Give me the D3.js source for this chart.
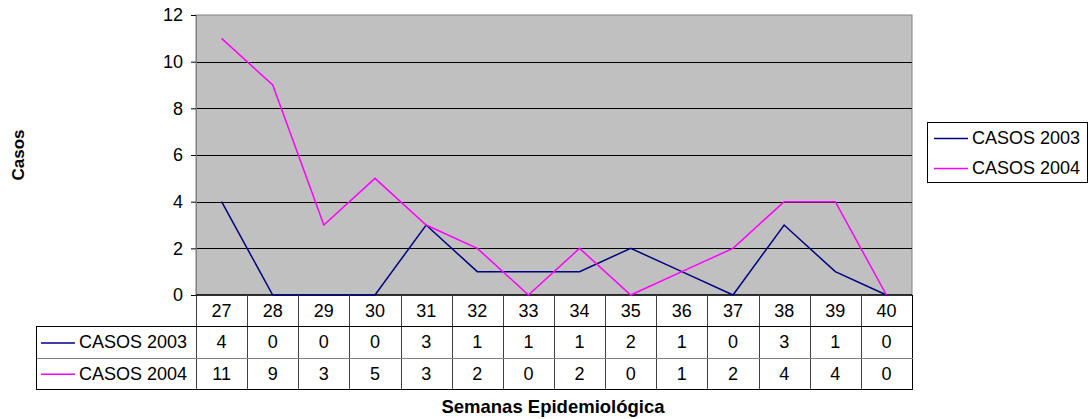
<!DOCTYPE html>
<html lang="es">
<head>
<meta charset="UTF-8">
<title>Casos por semana epidemiológica</title>
<script src="https://d3js.org/d3.v7.min.js"></script>
<style>
    body { margin: 0; background: #fff; }
    svg text { font-family: Arial, "Liberation Sans", sans-serif; }
</style>
</head>
<body>
<svg id="chart" width="1089" height="419"></svg>
<script>
// data
const weeks = ["27","28","29","30","31","32","33","34","35","36","37","38","39","40"];
const casos2003 = [4, 0, 0, 0, 3, 1, 1, 1, 2, 1, 0, 3, 1, 0];
const casos2004 = [11, 9, 3, 5, 3, 2, 0, 2, 0, 1, 2, 4, 4, 0];
const seriesNames = ["CASOS 2003", "CASOS 2004"];
const seriesColors = ["#000080", "#FF00FF"];
const yTicks = [0, 2, 4, 6, 8, 10, 12];

const series = [casos2003, casos2004];

// layout
const plot = {left: 196, right: 912, top: 15, bottom: 295};
const rowH = 31.3;
const tableLeft = 36;
const fs = 18;

const svg = d3.select("#chart");

const x = d3.scaleBand().domain(weeks).range([plot.left, plot.right]);
const y = d3.scaleLinear().domain([0, 12]).range([plot.bottom, plot.top]);

// plot background
svg.append("rect")
    .attr("x", plot.left).attr("y", plot.top)
    .attr("width", plot.right - plot.left).attr("height", plot.bottom - plot.top)
    .attr("fill", "#C0C0C0").attr("stroke", "#808080").attr("stroke-width", 1);

// gridlines
svg.append("g").selectAll("line")
    .data(yTicks.filter(d => d > 0 && d < 12))
    .join("line")
    .attr("x1", plot.left).attr("x2", plot.right)
    .attr("y1", d => Math.round(y(d)) + 0.5).attr("y2", d => Math.round(y(d)) + 0.5)
    .attr("stroke", "#000").attr("stroke-width", 1);

// y axis
const yAxis = svg.append("g")
    .attr("transform", `translate(${plot.left},0)`)
    .call(d3.axisLeft(y).tickValues(yTicks).tickSize(5).tickPadding(8));
yAxis.select(".domain").attr("stroke", "#808080");
yAxis.selectAll(".tick line").attr("stroke", "#000");
yAxis.selectAll(".tick text").attr("font-size", fs).attr("fill", "#000")
    .attr("font-family", "Arial, 'Liberation Sans', sans-serif");

// zero line
svg.append("line")
    .attr("x1", plot.left).attr("x2", plot.right)
    .attr("y1", plot.bottom).attr("y2", plot.bottom)
    .attr("stroke", "#000").attr("stroke-width", 1.5);

// series lines
const line = d3.line()
    .x((d, i) => x(weeks[i]) + x.bandwidth() / 2)
    .y(d => y(d));

svg.append("g").selectAll("path")
    .data(series)
    .join("path")
    .attr("d", line)
    .attr("fill", "none")
    .attr("stroke", (d, i) => seriesColors[i])
    .attr("stroke-width", 1.5);

// data table
const table = svg.append("g");
const rowTop = i => plot.bottom + i * rowH;
const baseOff = rowH / 2 + 6.5;

// header cells
table.selectAll("text.head")
    .data(weeks)
    .join("text")
    .attr("class", "head")
    .attr("x", d => x(d) + x.bandwidth() / 2)
    .attr("y", rowTop(0) + baseOff)
    .attr("text-anchor", "middle")
    .attr("font-size", fs)
    .text(d => d);

// value rows
series.forEach((vals, s) => {
    const yy = rowTop(s + 1) + baseOff;
    table.append("g").selectAll("text")
        .data(vals)
        .join("text")
        .attr("x", (d, i) => x(weeks[i]) + x.bandwidth() / 2)
        .attr("y", yy)
        .attr("text-anchor", "middle")
        .attr("font-size", fs)
        .text(d => d);
    table.append("line")
        .attr("x1", tableLeft + 5).attr("x2", tableLeft + 39)
        .attr("y1", rowTop(s + 1) + rowH / 2 + 1).attr("y2", rowTop(s + 1) + rowH / 2 + 1)
        .attr("stroke", seriesColors[s]).attr("stroke-width", 1.5);
    table.append("text")
        .attr("x", tableLeft + 43)
        .attr("y", yy)
        .attr("font-size", fs)
        .text(seriesNames[s]);
});

// table grid
const bottom = rowTop(3);
table.selectAll("line.vline")
    .data(weeks.slice(1))
    .join("line")
    .attr("class", "vline")
    .attr("x1", d => Math.round(x(d)) + 0.5).attr("x2", d => Math.round(x(d)) + 0.5)
    .attr("y1", plot.bottom).attr("y2", bottom)
    .attr("stroke", "#404040").attr("stroke-width", 1);
table.append("line")
    .attr("x1", plot.left + 0.5).attr("x2", plot.left + 0.5)
    .attr("y1", plot.bottom).attr("y2", bottom)
    .attr("stroke", "#404040");
table.append("line")
    .attr("x1", plot.right + 0.5).attr("x2", plot.right + 0.5)
    .attr("y1", plot.bottom).attr("y2", bottom)
    .attr("stroke", "#000");
table.append("line")
    .attr("x1", tableLeft).attr("x2", plot.right + 1)
    .attr("y1", Math.round(rowTop(1)) + 0.5).attr("y2", Math.round(rowTop(1)) + 0.5)
    .attr("stroke", "#000");
table.append("line")
    .attr("x1", tableLeft).attr("x2", plot.right + 1)
    .attr("y1", Math.round(rowTop(2)) + 0.5).attr("y2", Math.round(rowTop(2)) + 0.5)
    .attr("stroke", "#808080");
table.append("line")
    .attr("x1", tableLeft).attr("x2", plot.right + 1)
    .attr("y1", Math.round(bottom) + 0.5).attr("y2", Math.round(bottom) + 0.5)
    .attr("stroke", "#000");
table.append("line")
    .attr("x1", tableLeft + 0.5).attr("x2", tableLeft + 0.5)
    .attr("y1", Math.round(rowTop(1))).attr("y2", Math.round(bottom) + 1)
    .attr("stroke", "#000");

// legend
const legend = svg.append("g").attr("transform", "translate(927,122)");
legend.append("rect")
    .attr("x", 0.5).attr("y", 0.5).attr("width", 160).attr("height", 60)
    .attr("fill", "#fff").attr("stroke", "#000");
seriesNames.forEach((name, i) => {
    const ly = 16 + i * 30;
    legend.append("line")
        .attr("x1", 7).attr("x2", 41).attr("y1", ly + 0.5).attr("y2", ly + 0.5)
        .attr("stroke", seriesColors[i]).attr("stroke-width", 1.5);
    legend.append("text")
        .attr("x", 45).attr("y", ly + 6)
        .attr("font-size", fs)
        .text(name);
});

// axis titles
svg.append("text")
    .attr("transform", "translate(24,155) rotate(-90)")
    .attr("text-anchor", "middle")
    .attr("font-size", 17).attr("font-weight", "bold")
    .text("Casos");
svg.append("text")
    .attr("x", 553).attr("y", 413)
    .attr("text-anchor", "middle")
    .attr("font-size", 18.5).attr("font-weight", "bold")
    .text("Semanas Epidemiológica");
</script>
</body>
</html>
